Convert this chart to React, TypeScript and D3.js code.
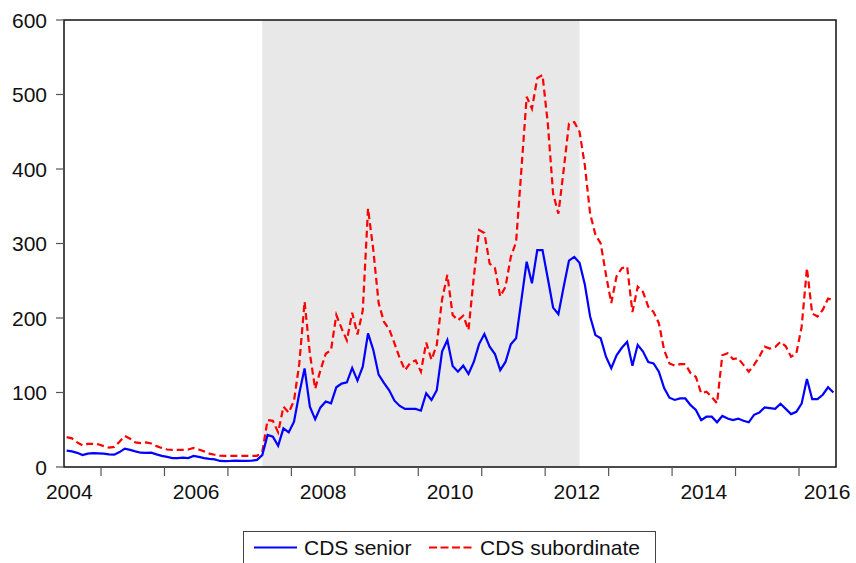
import * as d3 from 'd3';

// monthly observations, first one is 2004M06
const startYear = 2004;
const startMonth = 6;

const seniorValues = [
  22, 21, 19, 16, 18, 18.5, 18.3, 18, 17, 16.5, 20, 24.6, 23, 21, 19.2, 19, 19.2, 17, 15, 13.5,
  12, 12, 12.5, 12, 14.8, 13.5, 12, 11, 10.3, 8.1, 8, 8.1, 8.5, 8.2, 8.3, 8.5, 9.5, 16,
  43, 40.7, 28.6, 51.9, 46.5, 60.8, 98.9, 132.4, 81, 64, 80, 88, 85.5, 107, 112, 113.7, 133, 116,
  134.6, 179.4, 157, 124, 113, 103, 89, 82, 78, 78, 78, 75.6, 99, 90, 103, 155, 170.5, 135.6,
  128, 136, 124.8, 141, 165, 178.5, 161.5, 151.7, 130, 141, 164.7, 172.7, 224, 275.6, 246.5,
  291, 291, 253, 214, 205, 242, 277, 282, 274, 245, 202, 177, 172.7, 148, 132.5, 150, 160, 168,
  136, 164, 155, 141, 139, 128, 106, 93, 90, 92, 92, 83, 76.5, 63, 67.5, 67.5, 60, 68.5, 65, 63,
  65, 62, 60, 70, 73, 80, 79, 78, 85, 78, 71, 74, 85, 118, 91, 91, 97, 107, 100,
];

const subordinateValues = [
  40, 38.5, 33, 29, 31, 31, 30.5, 28, 26, 27, 34, 41.6, 38, 33, 32, 33, 31.5, 28, 25.5, 23.5,
  23, 23, 23, 23.5, 25.5, 23.5, 21, 18, 16.5, 15.2, 15, 15, 15, 15, 15, 15, 15, 20,
  63, 62, 46.5, 81, 73, 89, 139, 222, 152, 105, 130, 152, 157, 204, 186, 170, 207, 178, 210,
  347, 291, 220, 195, 185, 166, 146, 130, 140, 143, 128, 167, 144, 164, 225, 258, 204, 197, 203,
  184, 255, 318, 314, 273, 267, 229, 242, 282, 302, 399, 497, 481, 522, 526, 461, 367, 340, 399,
  461, 463, 450, 405, 340, 312, 300, 258, 220, 256, 267, 269, 208, 242, 235, 215, 208, 193, 157,
  139, 136, 138, 138, 126, 121, 99, 101, 94, 85.5, 150, 152.6, 145, 146, 137, 128, 137, 148,
  161.5, 159, 161, 168, 162, 148, 152.6, 188, 267, 206, 202, 211, 226, 224,
];

const yTicks = [0, 100, 200, 300, 400, 500, 600];
const tickYears = [2005, 2006, 2007, 2008, 2009, 2010, 2011, 2012, 2013, 2014, 2015, 2016];
const labelYears = [2004, 2006, 2008, 2010, 2012, 2014, 2016];
const shadeFrom = { year: 2007, month: 7 };
const shadeTo = { year: 2012, month: 7 };
const seriesNames = ['CDS senior', 'CDS subordinate'];

const W = 856;
const H = 563;
const margin = { left: 64, top: 20, right: 20, bottom: 96 };
const font = '"Liberation Sans", Arial, sans-serif';
const fs = 21;

// months counted from Jan 2004
const monthIdx = (year: number, month: number) => (year - startYear) * 12 + (month - 1);

const App = () => {
  const first = monthIdx(startYear, startMonth);
  const n = seniorValues.length;
  const x = d3.scaleLinear()
    .domain([first - 0.5, first + n - 0.5])
    .range([margin.left, W - margin.right]);
  const y = d3.scaleLinear().domain([0, 600]).range([H - margin.bottom, margin.top]);

  const line = d3.line<number>()
    .x((_, i) => x(first + i))
    .y(d => y(d));

  const x0 = margin.left;
  const x1 = W - margin.right;
  const yTop = margin.top;
  const yBot = H - margin.bottom;

  return (
    <svg width={W} height={H} style={{ position: 'absolute', left: 0, top: 0, background: '#fff' }}>
      <rect
        x={x(monthIdx(shadeFrom.year, shadeFrom.month))}
        y={yTop}
        width={x(monthIdx(shadeTo.year, shadeTo.month)) - x(monthIdx(shadeFrom.year, shadeFrom.month))}
        height={yBot - yTop}
        fill="#e8e8e8"
      />
      <path d={line(subordinateValues) || ''} fill="none" stroke="#ff0000" strokeWidth={2.2} strokeDasharray="7,4" />
      <path d={line(seniorValues) || ''} fill="none" stroke="#0000ff" strokeWidth={2.2} />

      <rect x={x0} y={yTop} width={x1 - x0} height={yBot - yTop} fill="none" stroke="#111" strokeWidth={1.5} />

      {yTicks.map(t => (
        <g key={t}>
          <line x1={x0 - 8} x2={x0} y1={y(t)} y2={y(t)} stroke="#555" strokeWidth={1.2} />
          <text x={47} y={y(t)} dy="0.36em" textAnchor="end" fontSize={fs} fontFamily={font} fill="#111">{t}</text>
        </g>
      ))}

      {tickYears.map(yr => (
        <line key={yr} x1={x(monthIdx(yr, 1) - 0.5)} x2={x(monthIdx(yr, 1) - 0.5)} y1={yBot} y2={yBot + 9} stroke="#555" strokeWidth={1.2} />
      ))}
      {labelYears.map(yr => (
        <text key={yr} x={Math.min(x(monthIdx(yr, 6) + 0.5), W - 29)} y={499} textAnchor="middle" fontSize={fs} fontFamily={font} fill="#111">{yr}</text>
      ))}

      <g>
        <rect x={243.5} y={531.5} width={412} height={40} fill="#fff" stroke="#444" strokeWidth={1} />
        <line x1={254} x2={297} y1={547.5} y2={547.5} stroke="#0000ff" strokeWidth={2} />
        <text x={304} y={555} fontSize={fs} fontFamily={font} fill="#111">{seriesNames[0]}</text>
        <line x1={429} x2={472} y1={547.5} y2={547.5} stroke="#ff0000" strokeWidth={2} strokeDasharray="8,3.5" />
        <text x={480} y={555} fontSize={fs} fontFamily={font} fill="#111">{seriesNames[1]}</text>
      </g>
    </svg>
  );
};

export default App;
